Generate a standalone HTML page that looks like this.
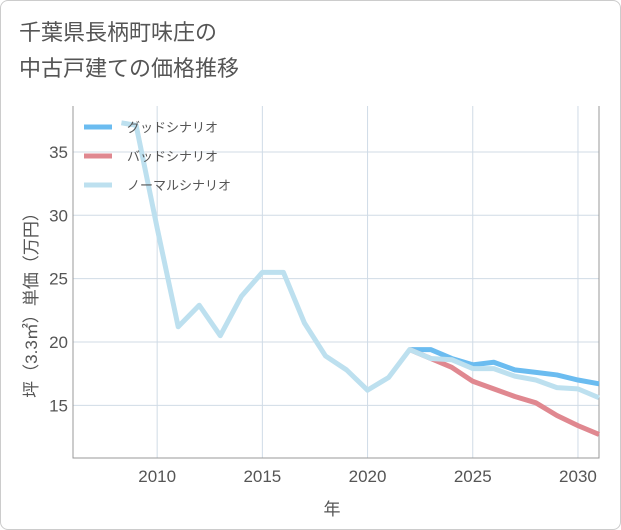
<!DOCTYPE html>
<html><head><meta charset="utf-8"><style>
body{margin:0;background:#fff;font-family:"Liberation Sans","Noto Sans CJK JP",sans-serif;}
#wrap{position:relative;width:619px;height:528px;border:1px solid #ccc;border-radius:8px;overflow:hidden;}
#title{position:absolute;left:18px;top:14px;font-size:22px;line-height:36px;color:#555;}
svg{position:absolute;left:0;top:0}
</style></head><body>
<div id="wrap">
<div id="title">千葉県長柄町味庄の<br>中古戸建ての価格推移</div>
<svg id="chart" width="621" height="530"></svg>
</div>
<script>
const years=[2008.3,2009,2010,2011,2012,2013,2014,2015,2016,2017,2018,2019,2020,2021,2022,2023,2024,2025,2026,2027,2028,2029,2030,2031];
const normal=[37.3,37.1,29,21.2,22.9,20.5,23.6,25.5,25.5,21.5,18.9,17.8,16.2,17.2,19.4,18.7,18.6,17.9,17.9,17.3,17.0,16.4,16.3,15.6];
const fYears=[2022,2023,2024,2025,2026,2027,2028,2029,2030,2031];
const good=[19.4,19.4,18.7,18.2,18.4,17.8,17.6,17.4,17.0,16.7];
const bad=[19.4,18.7,18.0,16.9,16.3,15.7,15.2,14.2,13.4,12.7];
const xTicks=[2010,2015,2020,2025,2030];
const yTicks=[15,20,25,30,35];
const L=72,R=598,T=105,B=457;
const x=v=>L+(v-2006)*(R-L)/25;
const y=v=>341-(v-20)*12.67;
const s=document.getElementById('chart');const NS='http://www.w3.org/2000/svg';
function mk(t,a){const e=document.createElementNS(NS,t);for(const k in a)e.setAttribute(k,a[k]);s.appendChild(e);return e;}
xTicks.forEach(t=>{const l=mk('line',{x1:x(t),x2:x(t),y1:T,y2:B,stroke:'#d0dbe6','stroke-width':1});

const tx=mk('text',{x:x(t),y:481,'text-anchor':'middle','font-size':17,fill:'#555'});tx.textContent=t;
});
yTicks.forEach(t=>{const l=mk('line',{x1:L,x2:R,y1:y(t),y2:y(t),stroke:'#d0dbe6','stroke-width':1});

const tx=mk('text',{x:67,y:y(t)+6,'text-anchor':'end','font-size':17,fill:'#555'});tx.textContent=t;
});
const ax=mk('path',{d:`M${L} ${T}V${B}H${R}V${T}`,fill:'none',stroke:'#999','stroke-width':1});

function line(xs,vs,c,n){const p=mk('polyline',{points:xs.map((v,i)=>x(v)+','+y(vs[i])).join(' '),fill:'none',stroke:c,'stroke-width':5,'stroke-linejoin':'round'});
}
line(fYears,good,'#6bbcf0','good-scenario-line');
line(fYears,bad,'#e08890','bad-scenario-line');
line(years,normal,'#bde0ef','normal-scenario-line');
const leg=[['グッドシナリオ','#6bbcf0'],['バッドシナリオ','#e08890'],['ノーマルシナリオ','#bde0ef']];
leg.forEach((d,i)=>{const yy=126+i*29;
const l=mk('line',{x1:83,x2:111,y1:yy,y2:yy,stroke:d[1],'stroke-width':5});

const t=mk('text',{x:126,y:yy+5,'font-size':13,fill:'#555'});t.textContent=d[0];
});
const xt=mk('text',{x:331,y:514,'text-anchor':'middle','font-size':17,fill:'#555'});xt.textContent='年';

const yt=mk('text',{x:0,y:0,'text-anchor':'middle','font-size':17,fill:'#555',transform:'translate(36,300) rotate(-90)'});yt.textContent='坪（3.3㎡）単価（万円）';

</script>
</body></html>
